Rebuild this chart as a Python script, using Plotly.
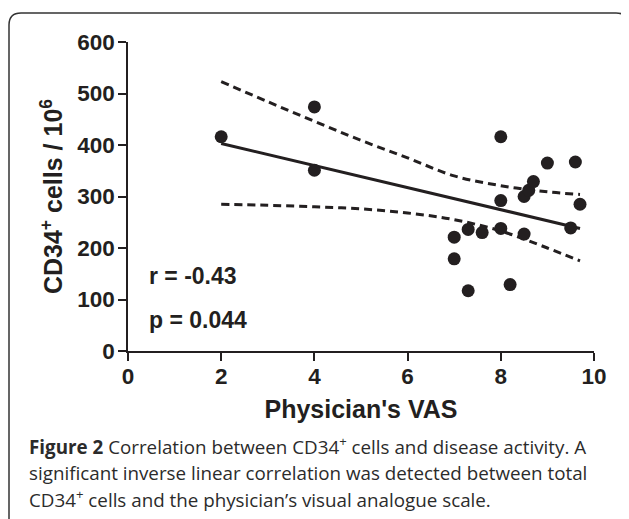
import plotly.graph_objects as go

# ---- data ----
vas = [2, 4, 4, 7, 7, 7.3, 7.3, 7.6, 8, 8, 8, 8.2, 8.5, 8.5, 8.6, 8.7, 9, 9.5, 9.6, 9.7]
cd34 = [416, 474, 351, 221, 179, 236, 117, 230, 416, 292, 238, 129, 227, 300, 312, 329, 365, 239, 367, 285]

fit_x = [2, 9.7]
fit_y = [403, 238]

band_x = [2, 3, 4, 5, 6, 7, 8, 9, 9.7]
upper_y = [523, 484, 446, 409, 375, 340, 321, 309, 304]
lower_y = [285, 283, 280, 276, 268, 255, 233, 200, 175]

x_ticks = [0, 2, 4, 6, 8, 10]
y_ticks = [0, 100, 200, 300, 400, 500, 600]

r_text = "r = -0.43"
p_text = "p = 0.044"
caption_lines = [
    "<b>Figure 2</b> Correlation between CD34<sup>+</sup> cells and disease activity. A",
    "significant inverse linear correlation was detected between total",
    "CD34<sup>+</sup> cells and the physician\u2019s visual analogue scale.",
]

INK = "#231f20"
OFF = 8  # page body margin: figure is drawn 8 px from the window's top-left
W, H = 629 - OFF, 519 - OFF
L, R, T, B = 128 - OFF, 594 - OFF, 42 - OFF, 351 - OFF  # plot area in figure pixels


def px(x):  # window pixel -> paper
    return (x - OFF - L) / (R - L)


def py(y):
    return (B - (y - OFF)) / (B - T)


fig = go.Figure()
fig.add_trace(go.Scatter(x=band_x, y=upper_y, mode="lines", line_shape="spline",
                         line=dict(color=INK, width=3, dash="8px,5px"), hoverinfo="skip"))
fig.add_trace(go.Scatter(x=band_x, y=lower_y, mode="lines", line_shape="spline",
                         line=dict(color=INK, width=3, dash="8px,5px"), hoverinfo="skip"))
fig.add_trace(go.Scatter(x=fit_x, y=fit_y, mode="lines",
                         line=dict(color=INK, width=3), hoverinfo="skip"))
fig.add_trace(go.Scatter(x=vas, y=cd34, mode="markers",
                         marker=dict(color=INK, size=13), cliponaxis=False))

bold = dict(family="Liberation Sans, Arial, sans-serif", color=INK, weight="bold")

fig.update_xaxes(range=[0, 10], tickvals=x_ticks, ticks="outside", ticklen=8, tickwidth=1.5,
                 tickcolor=INK, showline=True, linecolor=INK, linewidth=1.5, showgrid=False,
                 zeroline=False, tickfont=dict(size=22.5, **bold), ticklabelstandoff=-4,
                 title=dict(text="Physician's VAS", font=dict(size=25, **bold), standoff=13))
fig.update_yaxes(range=[0, 600], tickvals=y_ticks, ticks="outside", ticklen=8, tickwidth=1.5,
                 tickcolor=INK, showline=True, linecolor=INK, linewidth=1.5, showgrid=False,
                 zeroline=False, tickfont=dict(size=22.5, **bold), ticklabelstandoff=-1,
                 title=dict(text="CD34<sup>+</sup> cells / 10<sup>6</sup>",
                            font=dict(size=25, **bold), standoff=7))

fig.add_annotation(x=0.41, y=145, xref="x", yref="y", text=r_text, showarrow=False,
                   xanchor="left", yanchor="middle", font=dict(size=23, **bold))
fig.add_annotation(x=0.41, y=60, xref="x", yref="y", text=p_text, showarrow=False,
                   xanchor="left", yanchor="middle", font=dict(size=23, **bold))

cap_y = [446, 472.5, 499]
for txt, yy in zip(caption_lines, cap_y):
    fig.add_annotation(x=px(27), y=py(yy), xref="paper", yref="paper", text=txt,
                       showarrow=False, xanchor="left", yanchor="middle", align="left",
                       font=dict(family="Open Sans, sans-serif", size=18.8, color="#2b2b2b"))

# rounded frame (open at the bottom)
x0, x1, y0, yb = px(9), px(628), py(13), py(540)
rx, ry = 12 / (R - L), 12 / (B - T)
path = (f"M {x0},{yb} L {x0},{y0 - ry} Q {x0},{y0} {x0 + rx},{y0} "
        f"L {x1 - rx},{y0} Q {x1},{y0} {x1},{y0 - ry} L {x1},{yb}")
fig.add_shape(type="path", path=path, xref="paper", yref="paper",
              line=dict(color="#333333", width=1.5))

fig.update_layout(width=W, height=H, margin=dict(l=L, r=W - R, t=T, b=H - B),
                  plot_bgcolor="white", paper_bgcolor="white", showlegend=False)

fig.write_html("out.html")
